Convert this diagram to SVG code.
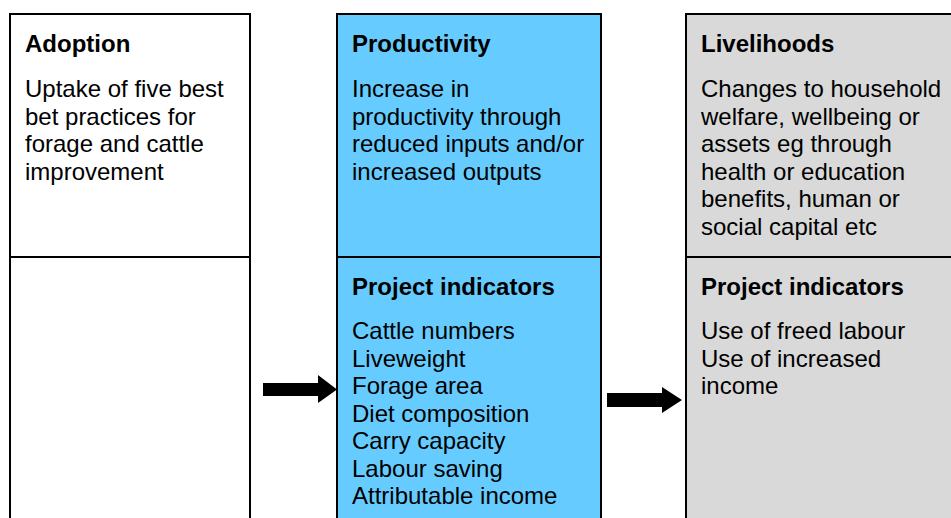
<svg xmlns="http://www.w3.org/2000/svg" width="951" height="518" viewBox="0 0 951 518">
<style>
.box{stroke:#000;stroke-width:2}
.h{font-family:"Liberation Sans",Arial,sans-serif;font-size:24px;font-weight:bold;fill:#000}
.t{font-family:"Liberation Sans",Arial,sans-serif;font-size:24px;fill:#000}
.arr{fill:#000}
</style>
<rect width="951" height="518" fill="#fff"/>
<g id="adoption">
<rect class="box" x="10" y="14" width="240" height="520" fill="#fff"/>
<line class="box" x1="10" y1="257" x2="250" y2="257"/>
<text class="h" x="25" y="52">Adoption</text>
<text class="t" x="25" y="97">Uptake of five best</text>
<text class="t" x="25" y="124.5">bet practices for</text>
<text class="t" x="25" y="152">forage and cattle</text>
<text class="t" x="25" y="179.5">improvement</text>
</g>
<g id="productivity">
<rect class="box" x="337" y="14" width="264" height="520" fill="#66CCFF"/>
<line class="box" x1="337" y1="257" x2="601" y2="257"/>
<text class="h" x="352" y="52">Productivity</text>
<text class="t" x="352" y="97">Increase in</text>
<text class="t" x="352" y="124.5">productivity through</text>
<text class="t" x="352" y="152">reduced inputs and/or</text>
<text class="t" x="352" y="179.5">increased outputs</text>
<text class="h" x="352" y="295">Project indicators</text>
<text class="t" x="352" y="339">Cattle numbers</text>
<text class="t" x="352" y="366.5">Liveweight</text>
<text class="t" x="352" y="394">Forage area</text>
<text class="t" x="352" y="421.5">Diet composition</text>
<text class="t" x="352" y="449">Carry capacity</text>
<text class="t" x="352" y="476.5">Labour saving</text>
<text class="t" x="352" y="504">Attributable income</text>
</g>
<g id="livelihoods">
<rect class="box" x="686" y="14" width="280" height="520" fill="#D9D9D9"/>
<line class="box" x1="686" y1="257" x2="960" y2="257"/>
<text class="h" x="701" y="52">Livelihoods</text>
<text class="t" x="701" y="97">Changes to household</text>
<text class="t" x="701" y="124.5">welfare, wellbeing or</text>
<text class="t" x="701" y="152">assets eg through</text>
<text class="t" x="701" y="179.5">health or education</text>
<text class="t" x="701" y="207">benefits, human or</text>
<text class="t" x="701" y="234.5">social capital etc</text>
<text class="h" x="701" y="295">Project indicators</text>
<text class="t" x="701" y="339">Use of freed labour</text>
<text class="t" x="701" y="366.5">Use of increased</text>
<text class="t" x="701" y="394">income</text>
</g>
<g id="connectors">
<polygon class="arr" points="263,383 318,383 318,375 337,389.5 318,403 318,396 263,396"/>
<polygon class="arr" points="607,393 662,393 662,387 682,400 662,413 662,407 607,407"/>
</g>
</svg>
